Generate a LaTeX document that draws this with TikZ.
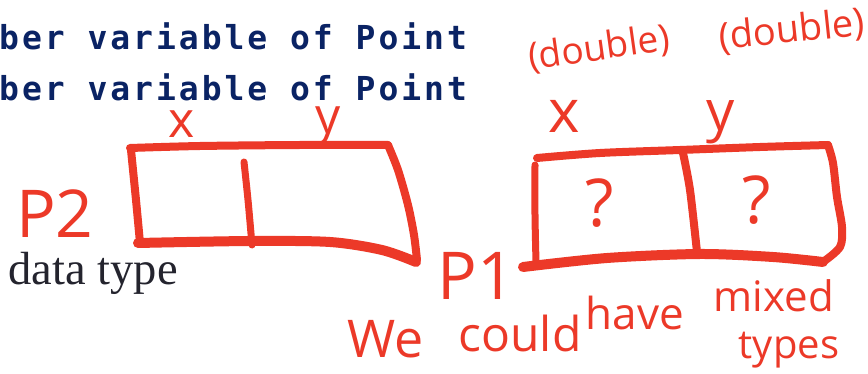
\documentclass[tikz,border=0pt]{standalone}
\usepackage{fontspec}
\setmainfont{Liberation Serif}
\newfontfamily\codefont{DejaVu Sans Mono}[LetterSpace=9]
\newfontfamily\hand{Open Sans}
\definecolor{hred}{RGB}{236,57,40}
\definecolor{navy}{RGB}{10,35,100}
\definecolor{dtgray}{RGB}{36,36,46}
\tikzset{
  pen/.style={draw=hred, line width=8pt, line cap=round, line join=round},
  penthick/.style={pen, line width=10pt},
  hw/.style={text=hred, inner sep=0pt, anchor=base},
  code/.style={text=navy, inner sep=0pt, anchor=base west, font=\codefont\bfseries\fontsize{33}{33}\selectfont},
}
\newcommand{\hs}[1]{\hand\fontsize{#1}{#1}\selectfont}
\begin{document}
\begin{tikzpicture}[x=1pt,y=-1pt]
\useasboundingbox (0,0) rectangle (868,374);
\fill[white] (0,0) rectangle (868,374);

% typed text
\node[code] (l1) at (-1,50) {ber variable of Point};
\node[code] (l2) at (-1,101) {ber variable of Point};
\node[anchor=base west, inner sep=0pt, text=dtgray, font=\fontsize{46.5}{50}\selectfont] (dt) at (8.5,285) {data type};

% left box (P2)
\draw[pen] plot[smooth] coordinates {(130,148) (200,146) (300,145) (388,145)};
\draw[pen] plot[smooth] coordinates {(388,145) (398,170) (408,205) (414,235) (417,260)};
\draw[penthick] plot[smooth] coordinates {(138,243) (250,241) (330,242) (382,250) (416,262)};
\draw[pen] plot[smooth] coordinates {(131,150) (136,200) (140,243)};
\draw[pen, line width=7pt] plot[smooth] coordinates {(244,162) (248,200) (252,245)};

% right box (P1)
\draw[pen] plot[smooth] coordinates {(537,158) (600,153) (680,150) (760,147) (828,145)};
\draw[pen] plot[smooth] coordinates {(828,145) (833,163) (837,197) (842,227) (840,247) (823,262)};
\draw[penthick] plot[smooth] coordinates {(523,267) (607,258) (700,254) (773,257) (823,262)};
\draw[pen, line width=7pt] plot[smooth] coordinates {(535,165) (535,215) (536,262)};
\draw[pen] plot[smooth] coordinates {(683,153) (690,190) (697,252)};

% handwriting
\node[hw, font=\hs{66}] (p2) at (55,238) {P2};
\node[hw, font=\hs{50}] (x2) at (182,138) {x};
\node[hw, font=\hs{50}] (y2) at (328,134) {y};
\node[hw, font=\hs{60}] (x1) at (564,133) {x};
\node[hw, font=\hs{56}] (y1) at (721,131) {y};
\node[text=hred, inner sep=0pt, rotate=8, font=\hs{37}] (d1) at (599,49) {(double)};
\node[text=hred, inner sep=0pt, rotate=6, font=\hs{38}] (d2) at (792,31) {(double)};
\node[hw, font=\hs{66}] (q1) at (600,227) {?};
\node[hw, font=\hs{66}] (q2) at (757,224) {?};
\node[hw, font=\hs{66}] (p1) at (476,300) {P1};
\node[hw, font=\hs{52}] (we) at (386,357) {We};
\node[hw, font=\hs{48}] (could) at (520,352) {could};
\node[hw, font=\hs{44}] (have) at (635,330) {have};
\node[hw, font=\hs{42}] (mixed) at (774,312) {mixed};
\node[hw, font=\hs{40}] (types) at (789,358) {types};
\end{tikzpicture}
\end{document}
